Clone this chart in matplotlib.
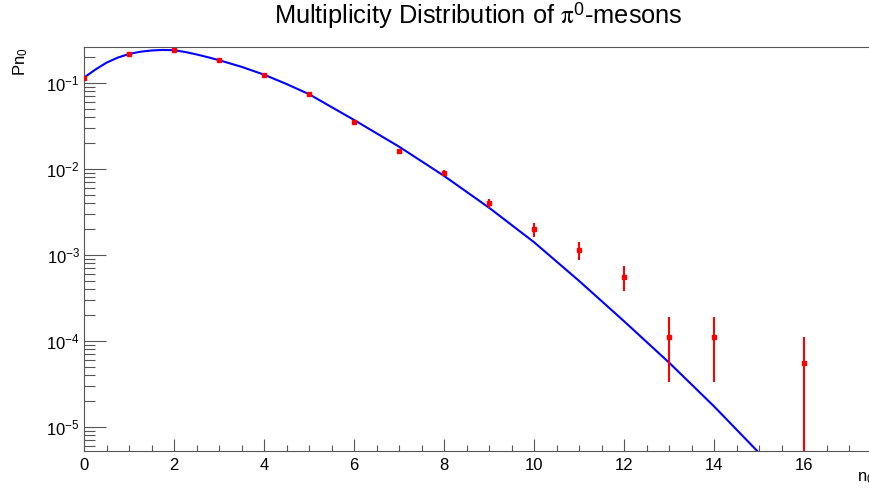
import numpy as np
import matplotlib
matplotlib.use("Agg")
import matplotlib.pyplot as plt
from matplotlib.ticker import MultipleLocator, LogLocator, NullFormatter

plt.rcParams['font.family'] = ['Liberation Sans', 'DejaVu Sans']
plt.rcParams['mathtext.fontset'] = 'stix'

# measured multiplicity (points with errors)
n_vals = [0, 1, 2, 3, 4, 5, 6, 7, 8, 9, 10, 11, 12, 13, 14, 16]
pn_vals = [0.114, 0.217, 0.242, 0.185, 0.125, 0.0739, 0.0349, 0.0162, 0.00906,
           0.00399, 0.00199, 0.00114, 0.00056, 0.000112, 0.000112, 0.0000555]
pn_err = [0.0025, 0.0035, 0.0037, 0.0032, 0.0026, 0.0020, 0.0014, 0.00095, 0.0007,
          0.00046, 0.00036, 0.00026, 0.00018, 0.000079, 0.000079, 0.0000555]

# fit curve
fit_x = [0, 0.25, 0.5, 0.75, 1, 1.25, 1.5, 1.75, 2, 2.25, 2.5, 2.75, 3, 3.5, 4,
         4.5, 5, 5.5, 6, 7, 8, 9, 10, 11, 12, 13, 14, 15, 15.5]
fit_y = [0.1153, 0.1429, 0.1722, 0.1972, 0.2173, 0.2307, 0.2388, 0.2421, 0.2404,
         0.2291, 0.2148, 0.1995, 0.1841, 0.1542, 0.1250, 0.0973, 0.0741, 0.0525,
         0.0372, 0.0182, 0.00832, 0.00355, 0.00141, 0.000501, 0.000170,
         5.62e-5, 1.74e-5, 5.01e-6, 2.63e-6]

W, H = 869, 492
fig = plt.figure(figsize=(W / 100, H / 100), dpi=100)
left, bottom, top = 84, 451, 47
px_per_unit = 45.0
right = W + 10
ax = fig.add_axes([left / W, (H - bottom) / H, (right - left) / W, (bottom - top) / H])

ax.set_yscale('log')
ax.set_xlim(0, (right - left) / px_per_unit)
ax.set_ylim(5.26e-6, 0.262)

ax.plot(fit_x, fit_y, color='#0000ff', lw=1.5, zorder=2)
ax.errorbar(n_vals, pn_vals, yerr=pn_err, fmt='s', color='#ff0000', ms=3.5,
            elinewidth=1.5, capsize=0, zorder=3)

for s in ax.spines.values():
    s.set_color('#555555')
    s.set_linewidth(0.8)
ax.spines['right'].set_visible(False)

ax.xaxis.set_major_locator(MultipleLocator(2))
ax.xaxis.set_minor_locator(MultipleLocator(0.5))
ax.yaxis.set_major_locator(LogLocator(base=10))
ax.yaxis.set_minor_locator(LogLocator(base=10, subs=np.arange(2, 10)))
ax.yaxis.set_minor_formatter(NullFormatter())
ax.tick_params(axis='x', which='major', direction='in', length=8.5, width=0.8,
               color='#555555', labelsize=12, pad=5, top=False)
ax.tick_params(axis='x', which='minor', direction='in', length=4.3, width=0.8,
               color='#555555', top=False)
ax.tick_params(axis='y', which='major', direction='in', length=16, width=0.8,
               color='#555555', labelsize=12, pad=3, right=False)
ax.tick_params(axis='y', which='minor', direction='in', length=8, width=0.8,
               color='#555555', right=False)

fig.text(478 / W, 1 - 16 / H, r'Multiplicity Distribution of $\mathrm{\pi}^{\mathdefault{0}}$-mesons',
         ha='center', va='center', fontsize=18.3)
fig.text(21 / W, 1 - 47 / H, r'Pn$_{\mathdefault{0}}$', rotation=90, ha='center', va='top',
         fontsize=12)
fig.text(857 / W, 1 - 478 / H, r'n$_{\mathdefault{0}}$', ha='left', va='center', fontsize=12)

fig.savefig('out.png', dpi=100)
